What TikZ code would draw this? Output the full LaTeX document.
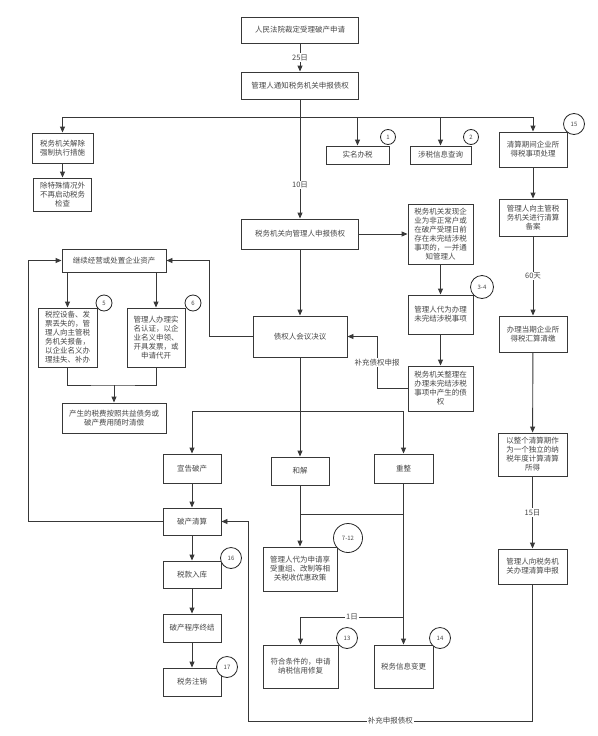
\documentclass[tikz,border=0pt]{standalone}
\usepackage{fontspec}
\setmainfont{Noto Sans CJK SC}
\usetikzlibrary{arrows.meta}
\newcommand\mybox[6]{\node[box, minimum width=#4pt, minimum height=#5pt] (#1) at (#2,#3) {#6};}
\begin{document}
\begin{tikzpicture}[x=1pt,y=-1pt,
  font=\fontsize{7.5}{9}\selectfont,
  box/.style={draw=black!78, line width=0.9pt, fill=white, align=center, inner sep=1pt, text=black!72},
  arr/.style={draw=black!78, line width=0.9pt, -{Triangle[length=6pt,width=5pt]}},
  ln/.style={draw=black!78, line width=0.9pt},
  num/.style={circle, draw=black!85, line width=0.8pt, fill=white, inner sep=0pt, text=black!72, font=\fontsize{6}{7}\selectfont},
  lab/.style={fill=white, inner sep=1pt, text=black!72}]
\useasboundingbox (0,0) rectangle (597,736);
% boxes
\mybox{top}{300}{30}{117}{26}{人民法院裁定受理破产申请}
\mybox{notify}{300}{85.5}{117}{27}{管理人通知税务机关申报债权}
\mybox{shenbao}{300}{234}{117}{30}{税务机关向管理人申报债权}
\mybox{jiechu}{62.5}{148}{61}{30}{税务机关解除\\强制执行措施}
\mybox{jiancha}{62.5}{194.5}{58}{33}{除特殊情况外\\不再启动税务\\检查}
\mybox{shiming}{357.5}{155}{63}{18}{实名办税}
\mybox{chaxun}{440.5}{155}{61}{18}{涉税信息查询}
\mybox{qsqj}{533}{149.5}{68}{35}{清算期间企业所\\得税事项处理}
\mybox{beian}{533}{217.5}{68}{37}{管理人向主管税\\务机关进行清算\\备案}
\mybox{faxian}{440.5}{234}{65}{60}{税务机关发现企\\业为非正常户或\\在破产受理日前\\存在未完结涉税\\事项的，一并通\\知管理人}
\mybox{daiwei}{440.5}{314.5}{65}{39}{管理人代为办理\\未完结涉税事项}
\mybox{zhengli}{440.5}{388.5}{65}{45}{税务机关整理在\\办理未完结涉税\\事项中产生的债\\权}
\mybox{jueyi}{300}{336.5}{94}{41}{债权人会议决议}
\mybox{jixu}{114}{260.5}{104}{23}{继续经营或处置企业资产}
\mybox{shikong}{67.5}{337.5}{59}{59}{税控设备、发\\票丢失的，管\\理人向主管税\\务机关报备，\\以企业名义办\\理挂失、补办}
\mybox{fapiao}{156}{337.5}{58}{59}{管理人办理实\\名认证，以企\\业名义申领、\\开具发票，或\\申请代开}
\mybox{gongyi}{114}{418}{104}{30}{产生的税费按照共益债务或\\破产费用随时清偿}
\mybox{xuangao}{192}{468.5}{58}{29}{宣告破产}
\mybox{hejie}{300}{471}{58}{28}{和解}
\mybox{chongzheng}{403.5}{468.5}{59}{29}{重整}
\mybox{pcqs}{192}{521.5}{58}{27}{破产清算}
\mybox{ruku}{192}{574.5}{58}{27}{税款入库}
\mybox{zhongjie}{192}{628}{58}{28}{破产程序终结}
\mybox{zhuxiao}{192}{682}{58}{28}{税务注销}
\mybox{youhui}{300}{569}{74}{44}{管理人代为申请享\\受重组、改制等相\\关税收优惠政策}
\mybox{xiufu}{300.5}{666.5}{75}{43}{符合条件的，申请\\纳税信用修复}
\mybox{biangeng}{403.5}{666.5}{59}{43}{税务信息变更}
\mybox{huisuan}{533}{334}{68}{36}{办理当期企业所\\得税汇算清缴}
\mybox{zhengge}{532.5}{454.5}{69}{43}{以整个清算期作\\为一个独立的纳\\税年度计算清算\\所得}
\mybox{qssb}{532.5}{566.5}{69}{35}{管理人向税务机\\关办理清算申报}
% coordinates
\coordinate (j1) at (300,117);
\coordinate (b1) at (532.5,721);
\coordinate (b2) at (248,721);
\coordinate (z1) at (377,388.5);
\coordinate (z2) at (377,336.5);
\coordinate (k1) at (209,336.5);
\coordinate (k2) at (28,521.5);
\coordinate (m) at (114,385);
\coordinate (j2) at (300,411);
\coordinate (j3) at (403.5,514);
\coordinate (j4) at (403.5,617);
% connectors
\draw[arr] (top) -- node[lab]{25日} (notify);
\draw[arr] (notify) -- node[lab,pos=0.72]{10日} (shenbao);
\draw[arr] (j1) -| (jiechu);
\draw[arr] (j1) -| (shiming);
\draw[arr] (j1) -| (chaxun);
\draw[arr] (j1) -| (qsqj);
\draw[arr] (jiechu) -- (jiancha);
\draw[arr] (qsqj) -- (beian);
\draw[arr] (beian) -- node[lab]{60天} (huisuan);
\draw[arr] (huisuan) -- (zhengge);
\draw[arr] (zhengge) -- node[lab]{15日} (qssb);
\draw[arr] (qssb) -- (b1) -- node[lab]{补充申报债权} (b2) |- (pcqs);
\draw[arr] (shenbao) -- (faxian);
\draw[arr] (faxian) -- (daiwei);
\draw[arr] (daiwei) -- (zhengli);
\draw[arr] (zhengli) -- (z1) -- node[lab]{补充债权申报} (z2) -- (jueyi);
\draw[arr] (shenbao) -- (jueyi);
\draw[arr] (jueyi) -- (k1) |- (jixu);
\draw[arr] (pcqs) -- (k2) |- (jixu);
\draw[arr] (jixu.south -| shikong) -- (shikong);
\draw[arr] (jixu.south -| fapiao) -- (fapiao);
\draw[ln] (shikong) |- (m) -| (fapiao);
\draw[arr] (m) -- (gongyi);
\draw[ln] (jueyi) -- (j2);
\draw[arr] (j2) -| (xuangao);
\draw[arr] (j2) -- (hejie);
\draw[arr] (j2) -| (chongzheng);
\draw[arr] (xuangao) -- (pcqs);
\draw[arr] (pcqs) -- (ruku);
\draw[arr] (ruku) -- (zhongjie);
\draw[arr] (zhongjie) -- (zhuxiao);
\draw[arr] (hejie) -- (youhui);
\draw[ln] (j3) -- (j3 -| hejie);
\draw[arr] (chongzheng) -- (biangeng);
\draw[arr] (j4) -| node[lab,pos=0.25]{1日} (xiufu);
% number circles
\node[num, minimum size=15pt] (c1) at (388,137) {1};
\node[num, minimum size=15pt] (c2) at (471,137) {2};
\node[num, minimum size=21pt] (c15) at (574,124) {15};
\node[num, minimum size=23pt] (c34) at (482,287) {3-4};
\node[num, minimum size=16pt] (c5) at (104,303) {5};
\node[num, minimum size=16pt] (c6) at (193,303) {6};
\node[num, minimum size=21pt] (c16) at (231,558) {16};
\node[num, minimum size=21pt] (c17) at (227,667) {17};
\node[num, minimum size=29pt] (c712) at (348,538) {7-12};
\node[num, minimum size=21pt] (c13) at (347,638) {13};
\node[num, minimum size=21pt] (c14) at (440,638) {14};
\end{tikzpicture}
\end{document}
